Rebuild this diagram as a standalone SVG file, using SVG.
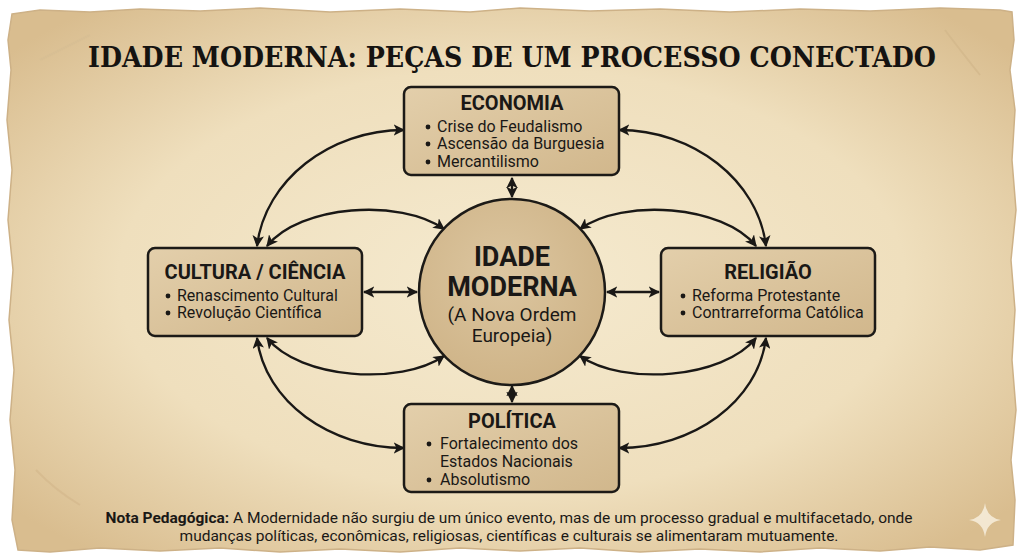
<svg xmlns="http://www.w3.org/2000/svg" width="1024" height="559" viewBox="0 0 1024 559">
<defs>
<radialGradient id="paper" cx="50%" cy="50%" r="65%">
<stop offset="0" stop-color="#f5eacf"/>
<stop offset="0.6" stop-color="#efdfbd"/>
<stop offset="1" stop-color="#d9bd8f"/>
</radialGradient>
<linearGradient id="boxg" x1="0" y1="0" x2="1" y2="1">
<stop offset="0" stop-color="#e3cfab"/>
<stop offset="1" stop-color="#d1b78c"/>
</linearGradient>
<radialGradient id="circg" cx="45%" cy="40%" r="60%">
<stop offset="0" stop-color="#dcc6a0"/>
<stop offset="1" stop-color="#cfb488"/>
</radialGradient>
<marker id="ah" viewBox="0 0 10 10" refX="9" refY="5" markerWidth="5" markerHeight="5" orient="auto-start-reverse" markerUnits="strokeWidth">
<path d="M0,0 L10,5 L0,10 L2.5,5 Z" fill="#1a1816"/>
</marker>
<style>
.box{fill:url(#boxg);stroke:#1c1a17;stroke-width:2.5}
.hd{font-family:Roboto,"Liberation Sans",sans-serif;font-weight:700;font-size:20px;fill:#1a1816;text-anchor:middle}
.it{font-family:Roboto,"Liberation Sans",sans-serif;font-size:16px;fill:#1a1816}
.bl{fill:#1a1816}
.cn{fill:none;stroke:#1a1816;stroke-width:2.3;marker-start:url(#ah);marker-end:url(#ah)}
</style>
</defs>
<rect width="1024" height="559" fill="#ffffff"/>
<path id="parchment" d="M12,14 L40,10 L90,12 L140,9 L200,11 L260,8 L330,12 L400,9 L470,12 L520,8 L590,11 L660,9 L730,12 L800,9 L870,11 L940,8 L1000,10 L1012,12 L1014,40 L1010,70 L1015,110 L1012,160 L1016,210 L1011,260 L1015,310 L1012,360 L1016,410 L1011,460 L1015,500 L1013,545 L980,550 L930,547 L880,551 L820,548 L760,552 L700,549 L640,552 L580,548 L520,551 L460,548 L400,552 L340,549 L280,552 L220,548 L160,551 L100,548 L50,552 L18,550 L12,520 L15,470 L10,420 L14,370 L9,320 L13,270 L8,220 L12,170 L7,120 L11,70 L8,40 Z" fill="url(#paper)" stroke="#cdb187" stroke-width="1.5"/>
<path d="M40,60 Q70,45 90,35" stroke="#d6bd94" stroke-width="2" fill="none" opacity="0.7"/>
<path d="M945,30 Q960,50 980,75" stroke="#d2b68a" stroke-width="2" fill="none" opacity="0.7"/>
<path d="M36,470 Q55,490 80,505" stroke="#d2b68a" stroke-width="2" fill="none" opacity="0.6"/>
<text x="512" y="67" text-anchor="middle" font-family="'DejaVu Serif','Liberation Serif',serif" font-weight="700" font-size="28" fill="#151311" textLength="848" lengthAdjust="spacingAndGlyphs">IDADE MODERNA: PEÇAS DE UM PROCESSO CONECTADO</text>
<g id="connectors">
<path class="cn" d="M512,178 L512,197"/>
<path class="cn" d="M512,386 L512,402"/>
<path class="cn" d="M364,292 L417,292"/>
<path class="cn" d="M607,292 L659,292"/>
<path class="cn" d="M404,130 C330,130 265,180 257,246"/>
<path class="cn" d="M619,130 C693,130 758,180 766,246"/>
<path class="cn" d="M257,338 C265,402 330,448 404,448"/>
<path class="cn" d="M766,338 C758,402 693,448 619,448"/>
<path class="cn" d="M267,246 C300,205 400,198 444,229"/>
<path class="cn" d="M756,246 C723,205 623,198 580,229"/>
<path class="cn" d="M267,338 C300,379 400,386 444,356"/>
<path class="cn" d="M756,338 C723,379 623,386 580,356"/>
</g>
<g id="economia">
<rect class="box" x="404" y="87" width="215" height="88" rx="7"/>
<text class="hd" x="512" y="110">ECONOMIA</text>
<circle class="bl" cx="428" cy="127" r="2.4"/><text class="it" x="437" y="132">Crise do Feudalismo</text>
<circle class="bl" cx="428" cy="144" r="2.4"/><text class="it" x="437" y="149">Ascensão da Burguesia</text>
<circle class="bl" cx="428" cy="162" r="2.4"/><text class="it" x="437" y="167">Mercantilismo</text>
</g>
<g id="cultura">
<rect class="box" x="148" y="248" width="214" height="88" rx="7"/>
<text class="hd" x="255" y="279">CULTURA / CIÊNCIA</text>
<circle class="bl" cx="168" cy="296" r="2.4"/><text class="it" x="177" y="301">Renascimento Cultural</text>
<circle class="bl" cx="168" cy="313" r="2.4"/><text class="it" x="177" y="318">Revolução Científica</text>
</g>
<g id="religiao">
<rect class="box" x="661" y="248" width="214" height="88" rx="7"/>
<text class="hd" x="768" y="279">RELIGIÃO</text>
<circle class="bl" cx="683" cy="296" r="2.4"/><text class="it" x="692" y="301">Reforma Protestante</text>
<circle class="bl" cx="683" cy="313" r="2.4"/><text class="it" x="692" y="318">Contrarreforma Católica</text>
</g>
<g id="politica">
<rect class="box" x="404" y="404" width="215" height="88" rx="7"/>
<text class="hd" x="512" y="428">POLÍTICA</text>
<circle class="bl" cx="429" cy="444" r="2.4"/><text class="it" x="440" y="449">Fortalecimento dos</text>
<text class="it" x="440" y="467">Estados Nacionais</text>
<circle class="bl" cx="429" cy="480" r="2.4"/><text class="it" x="440" y="485">Absolutismo</text>
</g>
<g id="centro">
<circle cx="512" cy="292" r="93" fill="url(#circg)" stroke="#1c1a17" stroke-width="2.5"/>
<text x="512" y="266" text-anchor="middle" font-family="Roboto,'Liberation Sans',sans-serif" font-weight="700" font-size="27" fill="#1a1816">IDADE</text>
<text x="512" y="296" text-anchor="middle" font-family="Roboto,'Liberation Sans',sans-serif" font-weight="700" font-size="27" fill="#1a1816">MODERNA</text>
<text x="512" y="321" text-anchor="middle" font-family="Roboto,'Liberation Sans',sans-serif" font-size="19" fill="#1a1816">(A Nova Ordem</text>
<text x="512" y="342" text-anchor="middle" font-family="Roboto,'Liberation Sans',sans-serif" font-size="19" fill="#1a1816">Europeia)</text>
</g>
<g id="nota" font-family="Roboto,'Liberation Sans',sans-serif" font-size="15.5" fill="#1a1816" text-anchor="middle">
<text x="509" y="523"><tspan font-weight="700">Nota Pedagógica:</tspan> A Modernidade não surgiu de um único evento, mas de um processo gradual e multifacetado, onde</text>
<text x="509" y="541">mudanças políticas, econômicas, religiosas, científicas e culturais se alimentaram mutuamente.</text>
</g>
<path d="M985,503 Q987,518 1001,520 Q987,522 985,537 Q983,522 969,520 Q983,518 985,503 Z" fill="#f7efdd" opacity="0.85"/>
</svg>
